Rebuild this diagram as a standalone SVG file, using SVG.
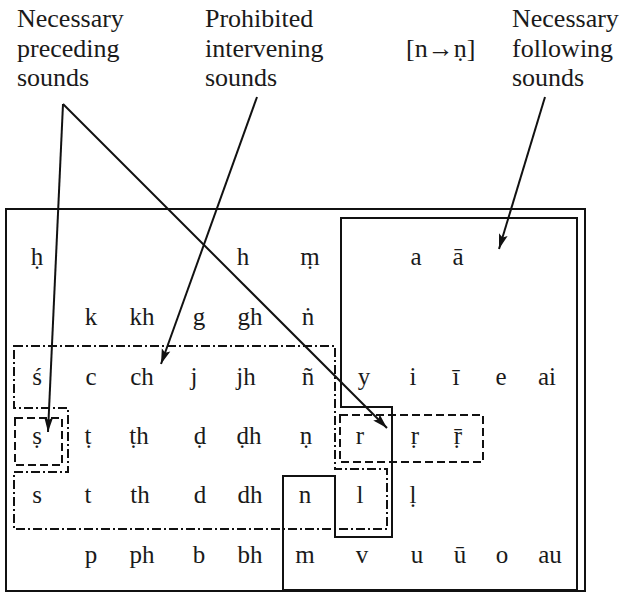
<svg xmlns="http://www.w3.org/2000/svg" width="630" height="595" viewBox="0 0 630 595">
<style>
.lbl{font-family:"Liberation Serif","DejaVu Serif",serif;font-size:26px;fill:#1a1a1a}
.g{font-family:"Liberation Serif","DejaVu Serif",serif;font-size:25px;fill:#1a1a1a;text-anchor:middle}
.solid{fill:none;stroke:#111;stroke-width:2}
.dashdot{fill:none;stroke:#111;stroke-width:2;stroke-dasharray:9 3 2 3}
.dash{fill:none;stroke:#111;stroke-width:2;stroke-dasharray:8 4}
.conn{fill:none;stroke:#111;stroke-width:2}
</style>
<defs>
<marker id="ah" markerUnits="userSpaceOnUse" markerWidth="16" markerHeight="10" refX="15" refY="5" orient="auto">
<path d="M0,0.5 L15,5 L0,9.5 L3,5 z" fill="#111"/>
</marker>
</defs>
<rect width="630" height="595" fill="#fff"/>

<g id="label-preceding">
<text class="lbl" x="17" y="27">Necessary</text>
<text class="lbl" x="17" y="57">preceding</text>
<text class="lbl" x="17" y="86">sounds</text>
</g>
<g id="label-intervening">
<text class="lbl" x="205" y="27">Prohibited</text>
<text class="lbl" x="205" y="57">intervening</text>
<text class="lbl" x="205" y="86">sounds</text>
</g>
<g id="label-rule">
<text class="lbl" x="406" y="57">[n→ṇ]</text>
</g>
<g id="label-following">
<text class="lbl" x="512" y="27">Necessary</text>
<text class="lbl" x="512" y="57">following</text>
<text class="lbl" x="512" y="86">sounds</text>
</g>

<g id="frame">
<rect class="solid" x="6" y="209" width="579" height="382"/>
</g>
<g id="region-following">
<path class="solid" d="M341,218 H577 V590 H283 V476 H335 V537 H392 V407 H341 Z"/>
</g>
<g id="region-intervening">
<path class="dashdot" d="M14,346 H335 V469 H387 V529 H14 V472 H68 V408 H14 Z"/>
</g>
<g id="region-preceding">
<rect class="dash" x="15" y="418" width="47" height="47"/>
</g>
<g id="region-r">
<rect class="dash" x="340" y="415" width="143" height="47"/>
</g>

<g id="grid">
<text class="g" x="37" y="265">ḥ</text>
<text class="g" x="243" y="265">h</text>
<text class="g" x="310" y="265">ṃ</text>
<text class="g" x="416" y="265">a</text>
<text class="g" x="458" y="265">ā</text>

<text class="g" x="91" y="325">k</text>
<text class="g" x="142" y="325">kh</text>
<text class="g" x="199" y="325">g</text>
<text class="g" x="250" y="325">gh</text>
<text class="g" x="308" y="325">ṅ</text>

<text class="g" x="37" y="385">ś</text>
<text class="g" x="91" y="385">c</text>
<text class="g" x="142" y="385">ch</text>
<text class="g" x="194" y="385">j</text>
<text class="g" x="246" y="385">jh</text>
<text class="g" x="308" y="385">ñ</text>
<text class="g" x="364" y="385">y</text>
<text class="g" x="413" y="385">i</text>
<text class="g" x="456" y="385">ī</text>
<text class="g" x="501" y="385">e</text>
<text class="g" x="547" y="385">ai</text>

<text class="g" x="37" y="444">ṣ</text>
<text class="g" x="88" y="444">ṭ</text>
<text class="g" x="139" y="444">ṭh</text>
<text class="g" x="200" y="444">ḍ</text>
<text class="g" x="249" y="444">ḍh</text>
<text class="g" x="306" y="444">ṇ</text>
<text class="g" x="360" y="444">r</text>
<text class="g" x="415" y="444">ṛ</text>
<text class="g" x="458" y="444">ṝ</text>

<text class="g" x="37" y="503">s</text>
<text class="g" x="88" y="503">t</text>
<text class="g" x="140" y="503">th</text>
<text class="g" x="200" y="503">d</text>
<text class="g" x="250" y="503">dh</text>
<text class="g" x="305" y="503">n</text>
<text class="g" x="360" y="503">l</text>
<text class="g" x="413" y="503">ḷ</text>

<text class="g" x="91" y="563">p</text>
<text class="g" x="142" y="563">ph</text>
<text class="g" x="199" y="563">b</text>
<text class="g" x="250" y="563">bh</text>
<text class="g" x="305" y="563">m</text>
<text class="g" x="362" y="563">v</text>
<text class="g" x="417" y="563">u</text>
<text class="g" x="460" y="563">ū</text>
<text class="g" x="502" y="563">o</text>
<text class="g" x="550" y="563">au</text>
</g>

<g id="connectors">
<line class="conn" x1="63" y1="104" x2="48" y2="432" marker-end="url(#ah)"/>
<line class="conn" x1="63" y1="104" x2="387" y2="428" marker-end="url(#ah)"/>
<line class="conn" x1="257" y1="97" x2="161" y2="364" marker-end="url(#ah)"/>
<line class="conn" x1="545" y1="97" x2="499" y2="249" marker-end="url(#ah)"/>
</g>
</svg>
